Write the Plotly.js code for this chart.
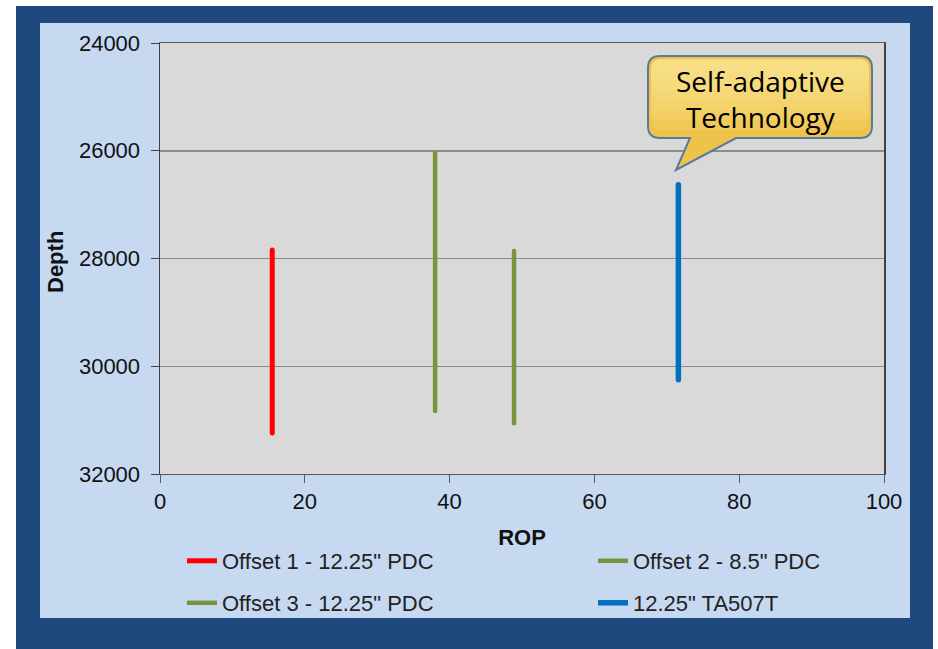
<!DOCTYPE html>
<html><head><meta charset="utf-8">
<script src="https://cdn.plot.ly/plotly-3.0.1.min.js"></script>
<style>
html,body{margin:0;padding:0;background:#fff}
#chart{width:938px;height:649px}
.scatterlayer .js-line{stroke-linecap:round}
</style></head>
<body><div id="chart"></div>
<script>
// ---- data ----
const seriesNames = ['Offset 1 - 12.25" PDC', 'Offset 2 - 8.5" PDC', 'Offset 3 - 12.25" PDC', '12.25" TA507T'];
const offset1Rop = [15.5, 15.5];
const offset1Depth = [27840, 31240];
const offset2Rop = [38, 38];
const offset2Depth = [26040, 30830];
const offset3Rop = [48.9, 48.9];
const offset3Depth = [27860, 31060];
const ta507tRop = [71.6, 71.6];
const ta507tDepth = [26630, 30250];
const calloutText = 'Self-adaptive<br>Technology';
const xTitle = 'ROP';
const yTitle = 'Depth';

// ---- style ----
const colors = ['#ff0000', '#77933c', '#77933c', '#0070c0'];
const widths = [5, 4.5, 4.5, 5.5];
const FONT = 'Liberation Sans, Arial, sans-serif';

const M = {l: 160, r: 54, t: 43, b: 175};
const W = 938, H = 649;
const PW = W - M.l - M.r, PH = H - M.t - M.b;
const XR = [0, 100], YR = [32000, 24000];
const xp = px => (px - M.l) / PW;
const yp = py => (H - M.b - py) / PH;
const dx = px => XR[0] + (px - M.l) / PW * (XR[1] - XR[0]);
const dy = py => YR[1] + (py - M.t) / PH * (YR[0] - YR[1]);

function roundRect(L, R, T, B, r, tail) {
  const pt = (x, y) => dx(x) + ',' + dy(y);
  let p = 'M' + pt(L + r, T) + ' L' + pt(R - r, T) + ' Q' + pt(R, T) + ' ' + pt(R, T + r) +
    ' L' + pt(R, B - r) + ' Q' + pt(R, B) + ' ' + pt(R - r, B);
  if (tail) p += ' L' + pt(736, B) + ' L' + pt(676, 170) + ' L' + pt(690, B);
  p += ' L' + pt(L + r, B) + ' Q' + pt(L, B) + ' ' + pt(L, B - r) +
    ' L' + pt(L, T + r) + ' Q' + pt(L, T) + ' ' + pt(L + r, T) + ' Z';
  return p;
}

const xs = [offset1Rop, offset2Rop, offset3Rop, ta507tRop];
const ys = [offset1Depth, offset2Depth, offset3Depth, ta507tDepth];
const legendIds = ['legend', 'legend2', 'legend3', 'legend4'];
const legendPos = [[182, 561], [593, 561], [182, 603], [593, 603]];

const traces = seriesNames.map((n, i) => ({
  type: 'scatter', mode: 'lines', name: n,
  x: xs[i], y: ys[i],
  line: {color: colors[i], width: widths[i]},
  legend: legendIds[i], hoverinfo: 'skip'
}));

const shapes = [
  {type: 'rect', xref: 'paper', yref: 'paper', layer: 'below',
   x0: xp(16), x1: xp(933), y0: yp(649), y1: yp(6),
   fillcolor: '#1f497d', line: {width: 0}},
  {type: 'rect', xref: 'paper', yref: 'paper', layer: 'below',
   x0: xp(40), x1: xp(910), y0: yp(618), y1: yp(23),
   fillcolor: '#c6d9f1', line: {width: 0}},
  {type: 'rect', xref: 'paper', yref: 'paper', layer: 'below',
   x0: 0, x1: 1, y0: 0, y1: 1,
   fillcolor: '#d9d9d9', line: {width: 0}},
  {type: 'path', xref: 'x', yref: 'y', layer: 'above',
   path: roundRect(648, 872, 56, 138, 12, true), fillcolor: '#eec34a',
   line: {color: '#5b7aa0', width: 2}}
];
// soft top-to-bottom highlight for the callout
[130, 120, 110, 100, 90, 80, 70].forEach(b => {
  shapes.push({type: 'path', xref: 'x', yref: 'y', layer: 'above',
    path: roundRect(651, 869, 59, b, 10, false),
    fillcolor: 'rgba(255,238,160,0.16)', line: {width: 0}});
});

const layout = {
  width: W, height: H, margin: M,
  paper_bgcolor: '#ffffff', plot_bgcolor: 'rgba(0,0,0,0)',
  showlegend: true,
  font: {family: FONT, color: '#000'},
  xaxis: {
    range: XR, tick0: 0, dtick: 20, showgrid: false, zeroline: false,
    showline: true, linecolor: '#595959', linewidth: 1, mirror: true,
    ticks: 'outside', ticklen: 8, tickcolor: '#595959',
    tickfont: {family: FONT, size: 22, color: '#111'},
    title: {text: '<b>' + xTitle + '</b>', font: {family: FONT, size: 22, color: '#111'}, standoff: 16},
    fixedrange: true
  },
  yaxis: {
    range: YR, tick0: 24000, dtick: 2000, tickformat: 'd',
    showgrid: true, gridcolor: '#8c8c8c', gridwidth: 1.5, zeroline: false,
    showline: true, linecolor: '#404040', linewidth: 1.5, mirror: true,
    ticks: 'outside', ticklen: 8, tickcolor: '#404040', ticklabelstandoff: 6,
    tickfont: {family: FONT, size: 22, color: '#111'},
    fixedrange: true
  },
  shapes: shapes,
  annotations: [
    {xref: 'paper', yref: 'paper', x: xp(55), y: yp(262), text: '<b>' + yTitle + '</b>',
     textangle: -90, showarrow: false, xanchor: 'center', yanchor: 'middle',
     font: {family: FONT, size: 22, color: '#111'}},
    {xref: 'x', yref: 'y', x: dx(760), y: dy(99), text: calloutText, showarrow: false,
     font: {family: 'Open Sans, Noto Sans, sans-serif', size: 28, color: '#000'},
     align: 'center', xanchor: 'center', yanchor: 'middle'}
  ]
};

legendIds.forEach((id, i) => {
  layout[id] = {
    orientation: 'h', xanchor: 'left', yanchor: 'middle',
    x: xp(legendPos[i][0]), y: yp(legendPos[i][1]),
    bgcolor: 'rgba(0,0,0,0)', borderwidth: 0,
    font: {family: FONT, size: 22, color: '#222'}
  };
});

Plotly.newPlot('chart', traces, layout, {displayModeBar: false, staticPlot: true});
</script>
</body></html>
